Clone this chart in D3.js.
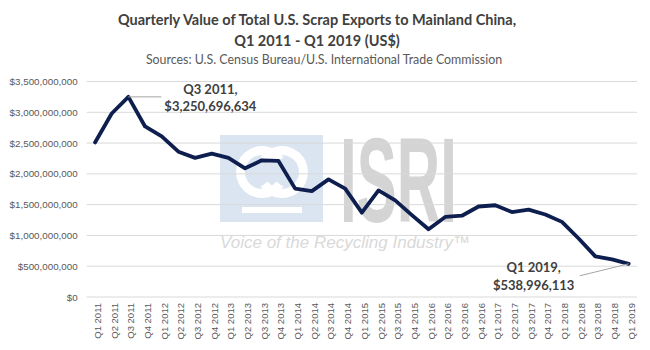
<!DOCTYPE html>
<html>
<head>
<meta charset="utf-8">
<script src="https://cdn.jsdelivr.net/npm/d3@7"></script>
<style>
  html, body { margin: 0; padding: 0; background: #fff; }
  svg { display: block; }
</style>
</head>
<body>
<svg id="chart" width="650" height="350"></svg>
<script>
const quarters = ["Q1 2011","Q2 2011","Q3 2011","Q4 2011","Q1 2012","Q2 2012","Q3 2012","Q4 2012",
  "Q1 2013","Q2 2013","Q3 2013","Q4 2013","Q1 2014","Q2 2014","Q3 2014","Q4 2014",
  "Q1 2015","Q2 2015","Q3 2015","Q4 2015","Q1 2016","Q2 2016","Q3 2016","Q4 2016",
  "Q1 2017","Q2 2017","Q3 2017","Q4 2017","Q1 2018","Q2 2018","Q3 2018","Q4 2018","Q1 2019"];
const exportValues = [2.51e9, 2.98e9, 3250696634, 2.77e9, 2.61e9, 2.36e9, 2.26e9, 2.33e9,
  2.26e9, 2.09e9, 2.22e9, 2.21e9, 1.76e9, 1.72e9, 1.91e9, 1.76e9,
  1.37e9, 1.73e9, 1.57e9, 1.33e9, 1.10e9, 1.30e9, 1.32e9, 1.47e9,
  1.49e9, 1.38e9, 1.42e9, 1.34e9, 1.22e9, 0.95e9, 0.66e9, 0.61e9, 538996113];
const yTicks = [0, 5e8, 1e9, 1.5e9, 2e9, 2.5e9, 3e9, 3.5e9];
const titleLines = ["Quarterly Value of Total U.S. Scrap Exports to Mainland China,", "Q1 2011 - Q1 2019 (US$)"];
const subtitle = "Sources: U.S. Census Bureau/U.S. International Trade Commission";
const annotations = [
  {index: 2, lines: ["Q3 2011,", "$3,250,696,634"]},
  {index: 32, lines: ["Q1 2019,", "$538,996,113"]}
];

const svg = d3.select("#chart");
const plotL = 86.7, plotR = 637, plotT = 81.5, plotB = 297;

const x = d3.scaleBand().domain(quarters).range([plotL, plotR]).paddingInner(0).paddingOuter(0);
const cx = q => x(q) + x.bandwidth() / 2;
const y = d3.scaleLinear().domain([0, 3.5e9]).range([plotB, plotT]);

// Titles
const tg = svg.append("g").attr("font-family", "Lato, 'Open Sans', sans-serif");
tg.append("text").attr("x", 317).attr("y", 25).attr("text-anchor", "middle")
  .attr("font-size", 14.5).attr("font-weight", "bold").attr("fill", "#404040").text(titleLines[0]);
tg.append("text").attr("x", 317).attr("y", 46).attr("text-anchor", "middle")
  .attr("font-size", 14.5).attr("font-weight", "bold").attr("fill", "#404040").text(titleLines[1]);
tg.append("text").attr("x", 324).attr("y", 64).attr("text-anchor", "middle")
  .attr("font-size", 12.4).attr("fill", "#595959").text(subtitle);

// Watermark
const wm = svg.append("g");
wm.append("rect").attr("x", 220).attr("y", 135).attr("width", 103).attr("height", 87).attr("fill", "#dbe5f1");
wm.append("path").attr("d", d3.arc()({innerRadius: 17, outerRadius: 26, startAngle: 0.6, endAngle: Math.PI*2 - 0.6}))
  .attr("transform", "translate(262,172) rotate(90)").attr("fill", "#fff");
wm.append("path").attr("d", d3.arc()({innerRadius: 17, outerRadius: 26, startAngle: 0.6, endAngle: Math.PI*2 - 0.6}))
  .attr("transform", "translate(282,172) rotate(-90)").attr("fill", "#fff");
wm.append("rect").attr("x", 242).attr("y", 207).attr("width", 60).attr("height", 6).attr("fill", "#fff");
wm.append("text").attr("x", 340).attr("y", 222).attr("font-family", "'Liberation Sans Narrow', 'Liberation Sans', sans-serif")
  .attr("font-weight", "bold").attr("font-size", 120).attr("fill", "#d4d4d4")
  .attr("textLength", 117).attr("lengthAdjust", "spacingAndGlyphs").text("ISRI");
wm.append("text").attr("x", 220).attr("y", 248).attr("font-family", "'Liberation Sans', sans-serif")
  .attr("font-style", "italic").attr("font-size", 17).attr("fill", "#d9d9d9")
  .attr("textLength", 250).attr("lengthAdjust", "spacingAndGlyphs").text("Voice of the Recycling Industry™");

// Gridlines
svg.append("g").selectAll("line").data(yTicks).join("line")
  .attr("x1", plotL).attr("x2", plotR).attr("y1", d => y(d)).attr("y2", d => y(d))
  .attr("stroke", "#d9d9d9").attr("stroke-width", 1);

// Y axis
const yAxis = svg.append("g").attr("transform", `translate(${plotL},0)`)
  .call(d3.axisLeft(y).tickValues(yTicks).tickSize(0).tickPadding(9).tickFormat(d3.format("$,.0f")));
yAxis.select(".domain").remove();
yAxis.selectAll("text").attr("font-family", "'Liberation Sans', Arial, sans-serif")
  .attr("font-size", 9.8).attr("fill", "#595959");

// X axis labels
const xAxis = svg.append("g").attr("transform", `translate(0,${plotB})`)
  .call(d3.axisBottom(x).tickSize(0).tickPadding(0));
xAxis.select(".domain").remove();
xAxis.selectAll("text")
  .attr("font-family", "'Liberation Sans', Arial, sans-serif").attr("font-size", 9.5).attr("fill", "#595959")
  .attr("text-anchor", "end").attr("dy", null).attr("y", null)
  .attr("transform", "translate(6,6) rotate(-90)");

// Line
const line = d3.line().x((d, i) => cx(quarters[i])).y(d => y(d));
svg.append("path").datum(exportValues).attr("d", line)
  .attr("fill", "none").attr("stroke", "#0e1f4f").attr("stroke-width", 3.8)
  .attr("stroke-linejoin", "round").attr("stroke-linecap", "round");

// Annotations
const a0 = annotations[0], p0x = cx(quarters[a0.index]), p0y = y(exportValues[a0.index]);
svg.append("line").attr("x1", p0x).attr("y1", p0y).attr("x2", p0x + 33).attr("y2", p0y)
  .attr("stroke", "#a6a6a6").attr("stroke-width", 1);
const ag = svg.append("g").attr("font-family", "Lato, 'Open Sans', sans-serif")
  .attr("font-weight", "bold").attr("font-size", 13).attr("fill", "#404040").attr("text-anchor", "middle");
ag.append("text").attr("x", p0x + 82).attr("y", p0y - 3).text(a0.lines[0]);
ag.append("text").attr("x", p0x + 82).attr("y", p0y + 14).text(a0.lines[1]);

const a1 = annotations[1], p1x = cx(quarters[a1.index]), p1y = y(exportValues[a1.index]);
svg.append("line").attr("x1", p1x).attr("y1", p1y).attr("x2", p1x - 49).attr("y2", p1y + 12)
  .attr("stroke", "#a6a6a6").attr("stroke-width", 1);
ag.append("text").attr("x", p1x - 95).attr("y", p1y + 8).text(a1.lines[0]);
ag.append("text").attr("x", p1x - 95).attr("y", p1y + 26).text(a1.lines[1]);
</script>
</body>
</html>
